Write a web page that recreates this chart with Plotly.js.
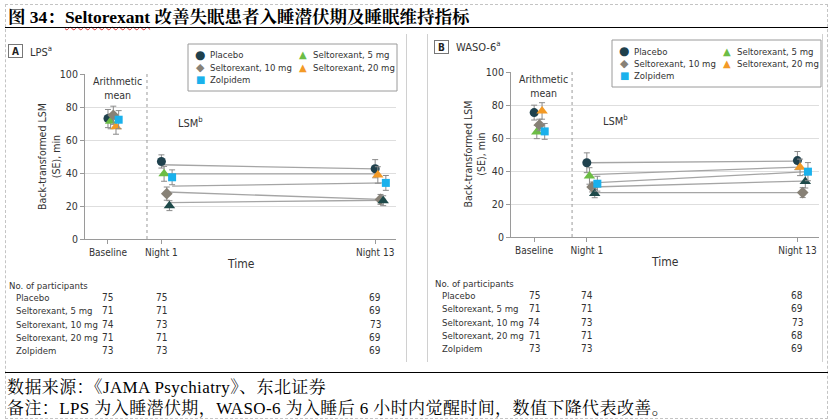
<!DOCTYPE html>
<html>
<head>
<meta charset="utf-8">
<script src="https://cdn.plot.ly/plotly-3.0.1.min.js"></script>
<style>
  body { margin: 0; width: 833px; height: 420px; background: #fff; position: relative; overflow: hidden; }
  #frame { position: absolute; left: 5px; top: 4px; width: 821px; height: 413px; border: 1px dashed #c4c4c4; }
  #title { position: absolute; left: 8px; top: 3px; font-size: 17.5px; font-weight: bold; color: #000;
           font-family: 'Liberation Serif', 'Noto Serif CJK SC', 'Noto Sans CJK SC', serif; white-space: nowrap; }
  #title .latin { text-decoration: underline wavy #d33; text-decoration-thickness: 1px; text-underline-offset: 3px; }
  .rule { position: absolute; left: 5px; width: 823px; border-top: 1.5px solid #000; }
  .vline { position: absolute; top: 34px; height: 328px; border-left: 1px solid #d0d0d0; }
  .plot { position: absolute; top: 30px; height: 332px; }
  .note { position: absolute; left: 7px; font-size: 17px; letter-spacing: 0.4px; color: #000; white-space: nowrap;
          font-family: 'Liberation Serif', 'Noto Serif CJK SC', 'Noto Sans CJK SC', serif; }
</style>
</head>
<body>
<div id="frame"></div>
<div id="title">图 34：<span class="latin">Seltorexant</span> 改善失眠患者入睡潜伏期及睡眠维持指标</div>
<div class="rule" style="top:27px"></div>
<div class="vline" style="left:406px"></div>
<div class="vline" style="left:427px"></div>
<div class="vline" style="left:822px"></div>
<div id="plotA" class="plot" style="left:6px;width:398px"></div>
<div id="plotB" class="plot" style="left:427px;width:395px"></div>
<div class="rule" style="top:372px"></div>
<div class="note" style="top:373px">数据来源：《JAMA Psychiatry》、东北证券</div>
<div class="note" style="top:394px">备注：LPS 为入睡潜伏期，WASO-6 为入睡后 6 小时内觉醒时间，数值下降代表改善。</div>

<script>
var timeLabels = ['Baseline', 'Night 1', 'Night 13'];
var timeX = [0, 1, 5];
var groups = ['Placebo', 'Seltorexant, 5 mg', 'Seltorexant, 10 mg', 'Seltorexant, 20 mg', 'Zolpidem'];

// A: LPS, back-transformed LSM (SE), min
var lpsPlacebo = [73, 47, 42.6];
var lpsPlaceboSE = [5.5, 4, 5.5];
var lps5mg = [71.3, 39.5, 38.8];
var lps5mgSE = [4.5, 4.5, 5];
var lps10mg = [75, 27.5, 24];
var lps10mgSE = [5.5, 4, 3];
var lps20mg = [68, 20.2, 23.2];
var lps20mgSE = [4.5, 3, 3];
var lpsZolpidem = [72.3, 37.4, 34];
var lpsZolpidemSE = [5.5, 4.5, 4.5];
// connecting lines night 1 -> night 13 (same group order)
var lpsLineNight1 = [45, 39.5, 28.5, 22, 32];
var lpsLineNight13 = [42.5, 39.5, 24, 23.5, 34];
// no. of participants
var lpsCountBaseline = [75, 71, 74, 71, 73];
var lpsCountNight1 = [75, 71, 73, 71, 73];
var lpsCountNight13 = [69, 69, 73, 69, 69];

// B: WASO-6
var wasoPlacebo = [75.4, 45, 46.3];
var wasoPlaceboSE = [4.5, 6, 5.5];
var waso5mg = [63.6, 37, 42.2];
var waso5mgSE = [4, 5, 5];
var waso10mg = [67.9, 30.3, 26.9];
var waso10mgSE = [3.5, 3, 3];
var waso20mg = [76.4, 26.3, 33.7];
var waso20mgSE = [5, 2.5, 4];
var wasoZolpidem = [64, 32.3, 39.6];
var wasoZolpidemSE = [4.8, 4.5, 5.5];
var wasoLineNight1 = [45, 37.8, 30.3, 26.9, 32.9];
var wasoLineNight13 = [46, 42.4, 33.9, 26.9, 39.6];
var wasoCountBaseline = [75, 71, 74, 71, 73];
var wasoCountNight1 = [74, 71, 73, 71, 73];
var wasoCountNight13 = [68, 69, 73, 68, 69];

var FONT = "'DejaVu Sans Condensed', 'Liberation Sans Narrow', Roboto, sans-serif";
var TXT = '#333';
var DARK = '#1f414d', GREEN = '#6cbd45', GREY = '#878176', ORANGE = '#f39a26', BLUE = '#1ab1ec', DARKTRI = '#1e4a4a';
var symbols = ['circle', 'triangle-up', 'diamond', 'triangle-up', 'square'];
var sizes = [9, 10, 9, 10, 8];
var colors = [DARK, [GREEN, GREEN, ORANGE], GREY, [ORANGE, DARKTRI, DARKTRI], BLUE];
var offsets = [0, 0.05, 0.1, 0.15, 0.2];
// key: glyph, colour, size, grid cell (row, col)
var keyGlyphs = ['●', '▲', '◆', '▲', '■'];
var keyColors = [DARK, GREEN, GREY, ORANGE, BLUE];
var keySizes = [12, 10, 11, 10, 10];
var keyCells = [[0, 0], [0, 1], [1, 0], [1, 1], [2, 0]];

var PH = 165; // plot height, px

function drawPanel(div, p) {
  var pw = p.width - p.l - p.r;
  function px(x) { return (x - p.l) / pw; }   // div px -> paper x
  function py(y) { return 1 - (y - p.t) / PH; } // div px -> paper y

  var traces = [];
  // grey connecting lines first, under the markers
  groups.forEach(function (g, i) {
    traces.push({
      x: [timeX[1] + offsets[i], timeX[2] + offsets[i]],
      y: [p.line1[i], p.line13[i]],
      mode: 'lines', type: 'scatter', showlegend: false, hoverinfo: 'skip',
      line: {color: '#a5a5a5', width: 1.3}
    });
  });
  groups.forEach(function (g, i) {
    traces.push({
      x: timeX.map(function (t) { return t + offsets[i]; }),
      y: p.values[i],
      name: g, mode: 'markers', type: 'scatter', showlegend: false,
      error_y: {type: 'data', array: p.se[i], visible: true, color: '#8a8a8a', thickness: 1, width: 3},
      marker: {symbol: symbols[i], size: sizes[i], color: colors[i], line: {width: 0}}
    });
  });

  var ann = [
    {xref: 'x', yref: 'y', x: 0.17, y: 91.6, text: 'Arithmetic<br>mean', showarrow: false, font: {size: 10.5, color: TXT}},
    {xref: 'x', yref: 'y', x: 1.54, y: 70.5, text: 'LSM<sup>b</sup>', showarrow: false, font: {size: 11, color: TXT}},
    {xref: 'paper', yref: 'paper', x: px(p.boxX), y: py(p.boxY), xanchor: 'left', yanchor: 'middle',
     text: '<b>' + p.letter + '</b>', showarrow: false, font: {size: 10, color: '#222'},
     bordercolor: '#777', borderwidth: 1, borderpad: 1, width: 11, height: 10},
    {xref: 'paper', yref: 'paper', x: px(p.boxX + 20), y: py(p.boxY), xanchor: 'left', yanchor: 'middle',
     text: p.label + '<sup>a</sup>', showarrow: false, font: {size: 11, color: TXT}},
    {xref: 'paper', yref: 'paper', x: 0.5, y: py(p.t + PH + 25), xanchor: 'center', yanchor: 'middle',
     text: 'Time', showarrow: false, font: {size: 12, color: TXT}},
    {xref: 'paper', yref: 'paper', x: px(p.yTitleX), y: 0.5, xanchor: 'center', yanchor: 'middle', textangle: -90,
     text: 'Back-transformed LSM<br>(SE), min', showarrow: false, font: {size: 10.5, color: TXT}},
    {xref: 'paper', yref: 'paper', x: px(p.boxX - 1), y: py(p.t + PH + 46), xanchor: 'left', yanchor: 'middle',
     text: 'No. of participants', showarrow: false, font: {size: 9.5, color: TXT}}
  ];
  // participant table, columns follow the x axis
  var cols = [p.countBaseline, p.countNight1, p.countNight13];
  groups.forEach(function (g, i) {
    var yy = py(p.t + PH + 58.5 + 13.3 * i);
    ann.push({xref: 'paper', yref: 'paper', x: px(p.boxX + 6), y: yy, xanchor: 'left', yanchor: 'middle',
      text: g, showarrow: false, font: {size: 9.5, color: TXT}});
    cols.forEach(function (c, j) {
      ann.push({xref: 'x', yref: 'paper', x: timeX[j], y: yy, xanchor: 'center', yanchor: 'middle',
        text: String(c[i]), showarrow: false, font: {size: 10, color: TXT}});
    });
  });
  // key box
  var colSym = [12, 114.5], colTxt = [19.5, 123], rowY = [11, 23.3, 35.8];
  groups.forEach(function (g, i) {
    var r = keyCells[i][0], c = keyCells[i][1];
    ann.push({xref: 'paper', yref: 'paper', x: px(p.legX + colSym[c]), y: py(p.legY + rowY[r]),
      xanchor: 'center', yanchor: 'middle', text: keyGlyphs[i], showarrow: false,
      font: {family: 'DejaVu Sans', size: keySizes[i], color: keyColors[i]}});
    ann.push({xref: 'paper', yref: 'paper', x: px(p.legX + colTxt[c]), y: py(p.legY + rowY[r]),
      xanchor: 'left', yanchor: 'middle', text: g, showarrow: false, font: {size: 9.5, color: TXT}});
  });

  var layout = {
    width: p.width, height: 332,
    margin: {l: p.l, r: p.r, t: p.t, b: 332 - p.t - PH},
    paper_bgcolor: 'rgba(0,0,0,0)', plot_bgcolor: 'rgba(0,0,0,0)',
    font: {family: FONT, size: 10, color: TXT},
    showlegend: false,
    xaxis: {
      range: p.xrange, tickvals: timeX, ticktext: timeLabels,
      showgrid: false, zeroline: false, showline: true, linecolor: '#9a9a9a',
      ticks: 'outside', ticklen: 4, tickcolor: '#9a9a9a', tickfont: {size: 10, color: TXT}
    },
    yaxis: {
      range: [0, 100], tickvals: [0, 20, 40, 60, 80, 100],
      showgrid: true, gridcolor: '#dedede', zeroline: false, showline: true, linecolor: '#9a9a9a',
      ticks: 'outside', ticklen: 4, tickcolor: '#9a9a9a', tickfont: {size: 10.5, color: TXT}
    },
    shapes: [
      {type: 'line', xref: 'x', yref: 'y', x0: p.split, x1: p.split, y0: 0, y1: 100,
       line: {color: '#9a9a9a', width: 1, dash: 'dot'}},
      {type: 'rect', xref: 'paper', yref: 'paper', layer: 'above',
       x0: px(p.legX), x1: px(p.legX + 209), y0: py(p.legY), y1: py(p.legY + 47),
       line: {color: '#9a9a9a', width: 1}, fillcolor: '#fff'}
    ],
    annotations: ann
  };
  Plotly.newPlot(div, traces, layout, {displayModeBar: false, staticPlot: true});
}

drawPanel('plotA', {
  letter: 'A', label: 'LPS', width: 398, l: 79, r: 8, t: 44,
  xrange: [-0.43, 5.39], split: 0.73, legX: 182, legY: 14, boxX: 2, boxY: 21, yTitleX: 42.5,
  values: [lpsPlacebo, lps5mg, lps10mg, lps20mg, lpsZolpidem],
  se: [lpsPlaceboSE, lps5mgSE, lps10mgSE, lps20mgSE, lpsZolpidemSE],
  line1: lpsLineNight1, line13: lpsLineNight13,
  countBaseline: lpsCountBaseline, countNight1: lpsCountNight1, countNight13: lpsCountNight13
});

drawPanel('plotB', {
  letter: 'B', label: 'WASO-6', width: 395, l: 84, r: 3, t: 42,
  xrange: [-0.44, 5.41], split: 0.72, legX: 185, legY: 10, boxX: 7, boxY: 17, yTitleX: 47,
  values: [wasoPlacebo, waso5mg, waso10mg, waso20mg, wasoZolpidem],
  se: [wasoPlaceboSE, waso5mgSE, waso10mgSE, waso20mgSE, wasoZolpidemSE],
  line1: wasoLineNight1, line13: wasoLineNight13,
  countBaseline: wasoCountBaseline, countNight1: wasoCountNight1, countNight13: wasoCountNight13
});
</script>
</body>
</html>
